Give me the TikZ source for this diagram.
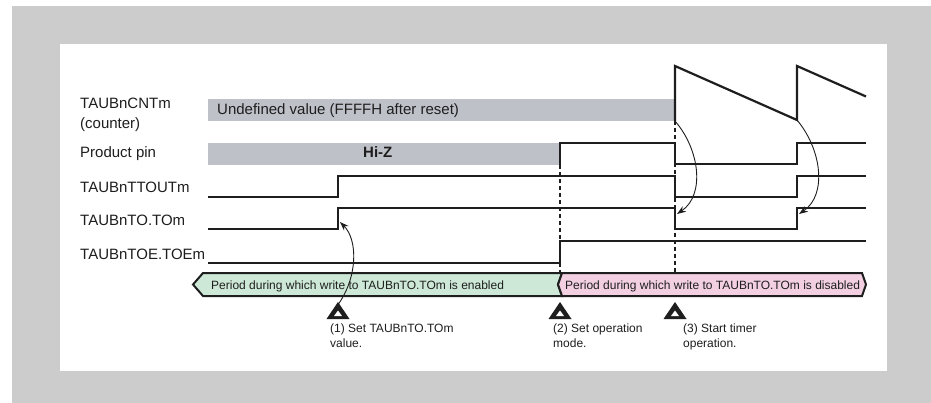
\documentclass[tikz,border=0pt]{standalone}
\usepackage{fontspec}
\setmainfont{Liberation Sans}
\usetikzlibrary{arrows.meta}
\definecolor{ink}{RGB}{30,30,30}
\definecolor{framegray}{RGB}{204,204,204}
\definecolor{undefgray}{RGB}{191,193,201}
\definecolor{enablegreen}{RGB}{205,232,214}
\definecolor{disablepink}{RGB}{242,208,226}
\tikzset{
  wave/.style={line width=2.2pt, draw=ink, line join=miter},
  guide/.style={line width=1.6pt, draw=ink, dash pattern=on 4pt off 3pt},
  hint/.style={-{Stealth[length=9pt,width=6.5pt]}, line width=0.9pt, draw=ink},
  period/.style={line width=2pt, draw=ink, line join=miter},
  lab/.style={font=\fontsize{15}{20}\selectfont, anchor=base west, inner sep=0pt, align=left, text=ink},
  tiny/.style={font=\fontsize{12}{15}\selectfont, anchor=base west, inner sep=0pt, align=left, text=ink},
}
\newcommand{\stepmark}[2]{
  \begin{scope}[shift={#2}]
    \coordinate (#1) at (0,0);
    \fill[ink] (0,0) -- (11.5,17) -- (-11.5,17) -- cycle;
    \fill[white] (0,8.5) -- (4,14) -- (-4,14) -- cycle;
  \end{scope}
}

\begin{document}
\begin{tikzpicture}[x=1pt,y=-1pt]
  \useasboundingbox (0,0) rectangle (931,403);

  % Frame.
  \fill[framegray] (12,6) rectangle (931,403);
  \fill[white] (60,44) rectangle (887,371);

  % Signal names.
  \node[lab] (cntName) at (80,129) {TAUBnCNTm\\(counter)};
  \node[lab] (pinName) at (80,158) {Product pin};
  \node[lab] (ttoutName) at (80,193) {TAUBnTTOUTm};
  \node[lab] (toName) at (80,226) {TAUBnTO.TOm};
  \node[lab] (toeName) at (80,260) {TAUBnTOE.TOEm};

  % Undefined states.
  \fill[undefgray] (208,99) rectangle (675,121);
  \fill[undefgray] (208,143) rectangle (560,165);
  \node[lab] (undefText) at (217,115) {Undefined value (FFFFH after reset)};
  \node[lab, font=\bfseries\fontsize{15}{20}\selectfont] (hizText) at (363,158) {Hi-Z};

  % Guides.
  \draw[guide] (560,165) -- (560,284);
  \draw[guide] (675,121) -- (675,273);

  % Waveforms.
  \draw[wave] (675,121) -- (675,66) -- (797,120) -- (797,66) -- (866,96.5);
  \draw[wave] (560,165) -- (560,143) -- (675,143) -- (675,164) -- (797,164) -- (797,143) -- (866,143);
  \draw[wave] (208,197) -- (338,197) -- (338,176) -- (675,176) -- (675,197) -- (797,197) -- (797,176) -- (866,176);
  \draw[wave] (208,229) -- (338,229) -- (338,208) -- (675,208) -- (675,229) -- (797,229) -- (797,208) -- (866,208);
  \draw[wave] (208,263) -- (560,263) -- (560,241) -- (866,241);

  % Write periods.
  \filldraw[period, fill=enablegreen]
    (193,284.5) -- (203,273) -- (562,273) -- (558,284.5) -- (562,296) -- (203,296) -- cycle;
  \filldraw[period, fill=disablepink]
    (558,284.5) -- (562,273) -- (862,273) -- (866,284.5) -- (862,296) -- (562,296) -- cycle;
  \node[tiny] (enableText) at (211,290) {Period during which write to TAUBnTO.TOm is enabled};
  \node[tiny] (disableText) at (565,290) {Period during which write to TAUBnTO.TOm is disabled};

  % Cause and effect.
  \coordinate (toRise) at (340,222);
  \coordinate (cntLoad) at (675,121);
  \coordinate (toDrop) at (677,214);
  \coordinate (cntReload) at (797,120);
  \coordinate (toRerise) at (799,214);
  \draw[hint] (337,306) .. controls (358,278) and (358,240) .. (toRise);
  \draw[hint] (cntLoad) .. controls (700,150) and (705,195) .. (toDrop);
  \draw[hint] (cntReload) .. controls (822,150) and (827,195) .. (toRerise);

  % Steps.
  \stepmark{markSet}{(338,302)}
  \stepmark{markMode}{(560,302)}
  \stepmark{markStart}{(675,302)}
  \node[tiny] (noteSet) at (330,347) {(1) Set TAUBnTO.TOm\\value.};
  \node[tiny] (noteMode) at (553,347) {(2) Set operation\\mode.};
  \node[tiny] (noteStart) at (683,347) {(3) Start timer\\operation.};

\end{tikzpicture}
\end{document}
